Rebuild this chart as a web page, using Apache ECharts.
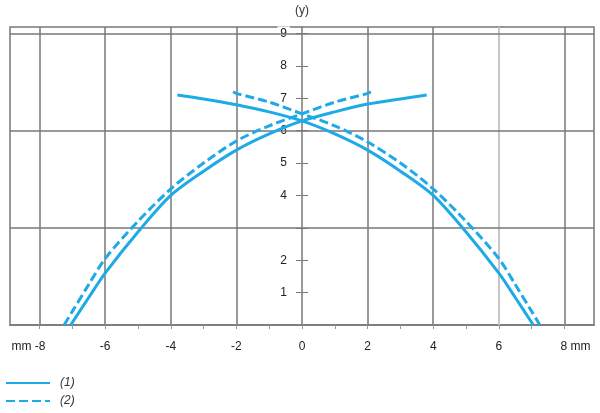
<!DOCTYPE html>
<html>
<head>
<meta charset="utf-8">
<script src="https://cdn.jsdelivr.net/npm/echarts@6/dist/echarts.min.js"></script>
<style>
  html, body { margin: 0; padding: 0; background: #fff; }
  #chart { width: 600px; height: 413px; }
</style>
</head>
<body>
<div id="chart"></div>
<script>
// curve (1), solid: rising arm and falling arm
const solidRiseX = [-7.05, -6.5, -6, -5, -4, -3, -2, -1, 0, 1, 2, 3, 3.8]
const solidRiseY = [0, 0.85, 1.6, 2.87, 4.0, 4.75, 5.4, 5.9, 6.3, 6.58, 6.82, 6.98, 7.1]
const solidFallX = [-3.8, -3, -2, -1, 0, 1, 2, 3, 4, 5, 6, 6.5, 7.05]
const solidFallY = [7.1, 6.98, 6.8, 6.58, 6.3, 5.9, 5.4, 4.75, 4.0, 2.87, 1.6, 0.85, 0]

// curve (2), dashed
const dashRiseX = [-7.25, -7, -6.5, -6, -5, -4, -3, -2, -1, 0, 1, 2, 2.1]
const dashRiseY = [0, 0.42, 1.25, 2.05, 3.2, 4.2, 5.0, 5.68, 6.15, 6.52, 6.88, 7.15, 7.2]
const dashFallX = [-2.1, -2, -1, 0, 1, 2, 3, 4, 5, 6, 6.5, 7, 7.25]
const dashFallY = [7.2, 7.15, 6.88, 6.52, 6.15, 5.65, 5.0, 4.2, 3.2, 2.05, 1.25, 0.42, 0]

const xTickLabels = [-8, -6, -4, -2, 0, 2, 4, 6, 8]
const xMinorTicks = [-8, -7, -6, -5, -4, -3, -2, -1, 0, 1, 2, 3, 4, 5, 6, 7, 8]
const xGridLines = [-8, -6, -4, -2, 2, 4, 6, 8]
const yGridLines = [3, 6, 9]
const yTickLabels = [1, 2, 4, 5, 6, 7, 8, 9]
const yTicks = [1, 2, 3, 4, 5, 6, 7, 8, 9]

const BLUE = '#1eaae6'
const GRID_GRAY = '#777'
const FONT = 'Liberation Sans, Arial, sans-serif'

// y axis sits on x = 0, i.e. half the plot width in from the left edge
const GRID_LEFT = 10
const GRID_RIGHT = 6
const Y_AXIS_OFFSET = -(600 - GRID_LEFT - GRID_RIGHT) / 2

const pairs = (xs, ys) => xs.map((x, i) => [x, ys[i]])

const chart = echarts.init(document.getElementById('chart'), null, { renderer: 'canvas' })

const lineSeries = (name, xs, ys, dashed, extra) => ({
    name: name,
    type: 'line',
    smooth: 0.3,
    symbol: 'none',
    showSymbol: false,
    data: pairs(xs, ys),
    lineStyle: { width: 3, color: BLUE, type: dashed ? [9, 4] : 'solid' },
    itemStyle: { color: BLUE },
    z: 3,
    ...extra
})

const gridStyle = (color, width) => ({ color: color, width: width, type: 'solid' })

chart.setOption({
    animation: false,
    backgroundColor: '#fff',
    textStyle: { fontFamily: FONT },
    grid: {
        left: GRID_LEFT,
        right: GRID_RIGHT,
        top: 27,
        bottom: 88,
        outerBoundsMode: 'none',
        show: true,
        borderColor: GRID_GRAY,
        borderWidth: 1.5
    },
    legend: {
        data: ['(1)', '(2)'],
        orient: 'vertical',
        left: 0,
        top: 372,
        itemWidth: 44,
        itemHeight: 14,
        itemGap: 6,
        itemStyle: { opacity: 0 },
        textStyle: {
            fontStyle: 'italic',
            fontSize: 12,
            color: '#333',
            fontFamily: FONT,
            padding: [0, 0, 0, 5]
        }
    },
    xAxis: {
        type: 'value',
        min: -8.9,
        max: 8.9,
        axisLine: { onZero: false, lineStyle: { color: GRID_GRAY, width: 1.5 } },
        axisTick: {
            customValues: xMinorTicks,
            length: 4,
            lineStyle: { color: '#999' }
        },
        axisLabel: {
            customValues: xTickLabels,
            margin: 16,
            color: '#222',
            fontSize: 12,
            fontFamily: FONT,
            formatter: v => v === -8 ? '{l|mm -8}' : (v === 8 ? '{r|8 mm}' : String(v)),
            rich: {
                l: { padding: [0, 22, 0, 0], fontSize: 12, color: '#222', fontFamily: FONT },
                r: { padding: [0, 0, 0, 22], fontSize: 12, color: '#222', fontFamily: FONT }
            }
        },
        splitLine: { show: false }
    },
    yAxis: [
        {
            type: 'value',
            position: 'left',
            offset: Y_AXIS_OFFSET,
            min: 0,
            max: 9.2,
            name: '(y)',
            nameLocation: 'end',
            nameGap: 10,
            nameTextStyle: { color: '#333', fontSize: 12, fontFamily: FONT },
            axisLine: { show: true, onZero: false, lineStyle: { color: GRID_GRAY, width: 1.5 } },
            axisTick: {
                show: true,
                customValues: yTicks,
                length: 6,
                lineStyle: { color: GRID_GRAY }
            },
            axisLabel: {
                customValues: yTickLabels,
                margin: 12,
                color: '#222',
                fontSize: 12,
                fontFamily: FONT,
                backgroundColor: '#fff',
                padding: [1, 3]
            },
            splitLine: { show: false }
        },
        {
            type: 'value',
            position: 'left',
            offset: Y_AXIS_OFFSET,
            min: 0,
            max: 9.2,
            axisLine: { show: false, onZero: false },
            axisTick: {
                show: true,
                inside: true,
                customValues: yTicks,
                length: 6,
                lineStyle: { color: GRID_GRAY }
            },
            axisLabel: { show: false },
            splitLine: { show: false }
        }
    ],
    series: [
        lineSeries('(1)', solidRiseX, solidRiseY, false, {
            markLine: {
                silent: true,
                symbol: 'none',
                z: 1,
                label: { show: false },
                lineStyle: gridStyle(GRID_GRAY, 1.5),
                data: xGridLines.map(v => ({
                    xAxis: v,
                    lineStyle: v === 6 ? gridStyle('#c6c6c6', 2) : gridStyle(GRID_GRAY, 1.5)
                })).concat(yGridLines.map(v => ({
                    yAxis: v,
                    lineStyle: gridStyle(GRID_GRAY, 1.5)
                })))
            }
        }),
        lineSeries('(1)', solidFallX, solidFallY, false),
        lineSeries('(2)', dashRiseX, dashRiseY, true),
        lineSeries('(2)', dashFallX, dashFallY, true)
    ]
})
</script>
</body>
</html>
